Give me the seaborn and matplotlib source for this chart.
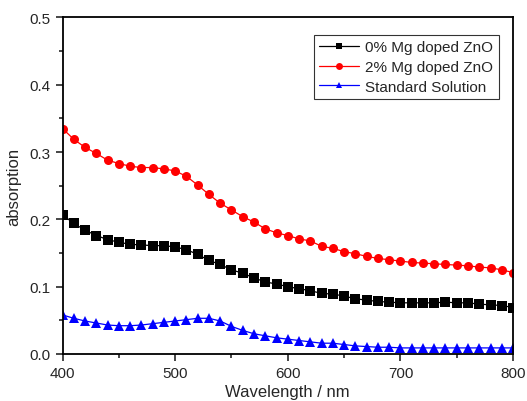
import numpy as np
import pandas as pd
import matplotlib
matplotlib.use("Agg")
import matplotlib.pyplot as plt
import seaborn as sns
from matplotlib.ticker import MultipleLocator

# -----------------------------
# DATA
# -----------------------------
wavelength = list(range(400, 801, 10))

mg0 = [0.207, 0.194, 0.184, 0.176, 0.170, 0.166, 0.163, 0.162, 0.161, 0.161,
       0.159, 0.155, 0.148, 0.139, 0.133, 0.125, 0.120, 0.113, 0.107, 0.104,
       0.100, 0.097, 0.094, 0.090, 0.089, 0.086, 0.082, 0.080, 0.078, 0.077,
       0.076, 0.076, 0.076, 0.076, 0.077, 0.076, 0.076, 0.074, 0.073, 0.072,
       0.069]

mg2 = [0.335, 0.319, 0.307, 0.298, 0.288, 0.283, 0.279, 0.277, 0.277, 0.275,
       0.272, 0.264, 0.251, 0.237, 0.224, 0.214, 0.204, 0.196, 0.186, 0.180,
       0.176, 0.171, 0.168, 0.160, 0.157, 0.152, 0.149, 0.145, 0.142, 0.140,
       0.138, 0.136, 0.135, 0.134, 0.133, 0.132, 0.131, 0.129, 0.128, 0.125,
       0.121]

standard = [0.058, 0.053, 0.049, 0.046, 0.043, 0.042, 0.042, 0.043, 0.045, 0.047,
            0.049, 0.051, 0.053, 0.053, 0.049, 0.041, 0.035, 0.030, 0.027, 0.024,
            0.022, 0.020, 0.018, 0.016, 0.016, 0.014, 0.012, 0.011, 0.010, 0.010,
            0.009, 0.009, 0.009, 0.009, 0.009, 0.009, 0.009, 0.009, 0.009, 0.009,
            0.009]

series_names = ["0% Mg doped ZnO", "2% Mg doped ZnO", "Standard Solution"]
series_colors = ["black", "red", "blue"]
series_markers = ["s", "o", "^"]

df = pd.DataFrame({
    "wavelength": wavelength * 3,
    "absorption": mg0 + mg2 + standard,
    "sample": sum([[n] * len(wavelength) for n in series_names], []),
})

# -----------------------------
# PLOT
# -----------------------------
sns.set_style("ticks")
plt.rcParams["font.family"] = ["Liberation Sans", "DejaVu Sans"]

fig = plt.figure(figsize=(5.27, 4.02), dpi=100)
ax = fig.add_axes([0.1186, 0.117, 0.855, 0.837])

sns.lineplot(
    data=df, x="wavelength", y="absorption", hue="sample", style="sample",
    palette=dict(zip(series_names, series_colors)),
    markers=dict(zip(series_names, series_markers)),
    dashes=False, markersize=6.5, markeredgewidth=0, linewidth=0.9,
    ax=ax,
)

ax.set_xlim(400, 800)
ax.set_ylim(0, 0.5)
ax.xaxis.set_major_locator(MultipleLocator(100))
ax.xaxis.set_minor_locator(MultipleLocator(50))
ax.yaxis.set_major_locator(MultipleLocator(0.1))
ax.yaxis.set_minor_locator(MultipleLocator(0.05))
ax.yaxis.set_major_formatter(plt.FormatStrFormatter("%.1f"))
ax.tick_params(which="major", direction="out", length=5, width=1.2, labelsize=11)
ax.tick_params(which="minor", direction="out", length=3, width=1.2)
for s in ax.spines.values():
    s.set_linewidth(1.3)
    s.set_color("black")

ax.set_xlabel("Wavelength / nm", fontsize=12, labelpad=3)
ax.set_ylabel("absorption", fontsize=12, labelpad=6)

leg = ax.legend(loc="upper right", bbox_to_anchor=(0.978, 0.962), fontsize=11,
                frameon=True, fancybox=False, edgecolor="black",
                handlelength=2.6, handletextpad=0.4, borderpad=0.35,
                labelspacing=0.38, borderaxespad=0.3)
leg.get_frame().set_linewidth(0.8)
for h in leg.legend_handles:
    h.set_markersize(5)

fig.savefig("out.png", dpi=100)
